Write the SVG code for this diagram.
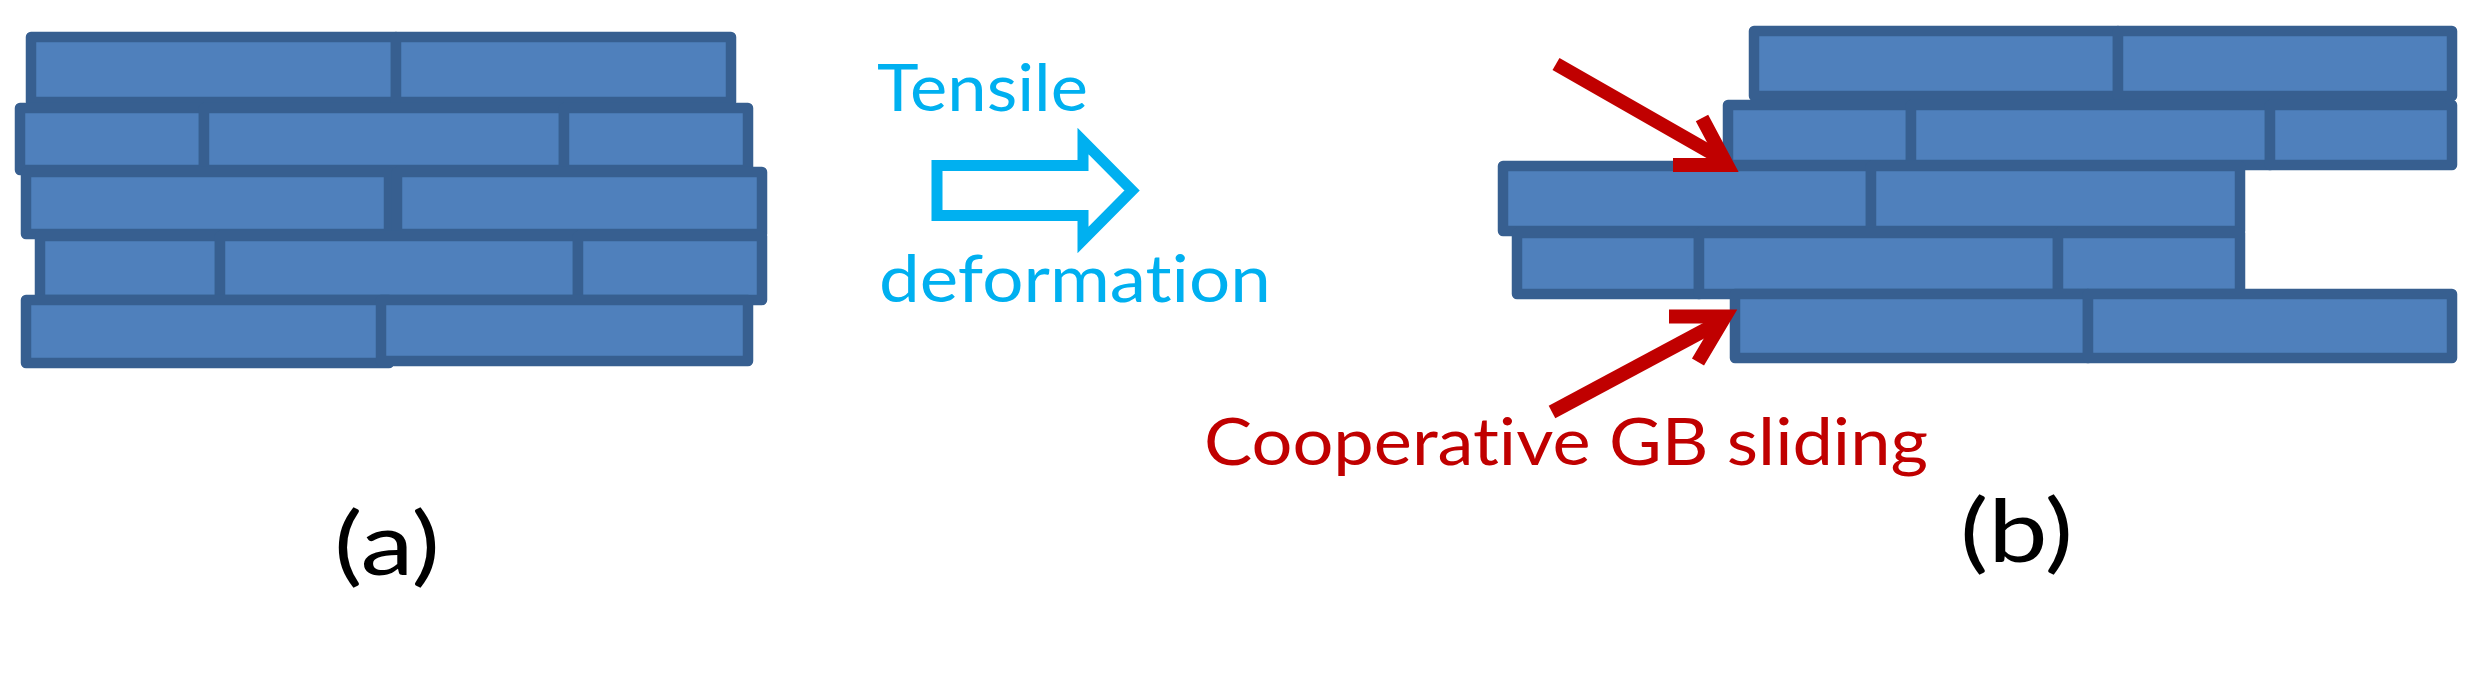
<svg xmlns="http://www.w3.org/2000/svg" width="2473" height="679" viewBox="0 0 2473 679">
<style>
.b{fill:#4F80BC;stroke:#375F90;stroke-width:10.5;stroke-linejoin:round}
.t{font-family:Lato,"Open Sans","Liberation Sans",sans-serif;font-size:66px;font-variant-ligatures:none}
.big{font-size:88px}
.red{fill:none;stroke:#C00000;stroke-width:14}
</style>
<rect width="2473" height="679" fill="#fff"/>
<g id="panel-a">
<g id="a1"><rect class="b" x="31" y="37" width="365" height="65"/><rect class="b" x="396" y="37" width="335" height="65"/></g>
<g id="a2"><rect class="b" x="20" y="108" width="184" height="62"/><rect class="b" x="204" y="108" width="360" height="62"/><rect class="b" x="564" y="108" width="184" height="62"/></g>
<g id="a3"><rect class="b" x="26" y="172" width="363" height="62"/><rect class="b" x="397" y="172" width="365" height="62"/></g>
<g id="a4"><rect class="b" x="40" y="236" width="180" height="64"/><rect class="b" x="220" y="236" width="358" height="64"/><rect class="b" x="578" y="236" width="184" height="64"/></g>
<g id="a5"><rect class="b" x="26" y="300" width="363" height="63"/><rect class="b" x="381" y="300" width="367" height="61"/></g>
</g>
<g id="panel-b">
<g id="b1"><rect class="b" x="1754" y="31" width="364" height="65"/><rect class="b" x="2118" y="31" width="334" height="65"/></g>
<g id="b2"><rect class="b" x="1728" y="105" width="183" height="60"/><rect class="b" x="1911" y="105" width="359" height="60"/><rect class="b" x="2270" y="105" width="182" height="60"/></g>
<g id="b3"><rect class="b" x="1503" y="166" width="368" height="65"/><rect class="b" x="1871" y="166" width="369" height="65"/></g>
<g id="b4"><rect class="b" x="1517" y="233" width="182" height="61"/><rect class="b" x="1699" y="233" width="359" height="61"/><rect class="b" x="2058" y="233" width="182" height="61"/></g>
<g id="b5"><rect class="b" x="1735" y="294" width="353" height="64"/><rect class="b" x="2088" y="294" width="364" height="64"/></g>
</g>
<g id="connectors">
<path d="M937 165.500H1083V141L1132 190.500L1083 240V215.500H937Z" fill="none" stroke="#00B0F0" stroke-width="11"/>
<path class="red" d="M1556 64L1724 160"/>
<path class="red" d="M1702 118L1727 165H1673"/>
<path class="red" d="M1552 412L1720 322"/>
<path class="red" d="M1669 316.500H1725L1698 362"/>
</g>
<g id="labels">
<text class="t" x="877" y="111" fill="#00B0F0" textLength="211" lengthAdjust="spacingAndGlyphs">Tensile</text>
<text class="t" x="879" y="302" fill="#00B0F0" textLength="392" lengthAdjust="spacingAndGlyphs">deformation</text>
<text class="t" x="1204" y="465" fill="#C00000" textLength="724" lengthAdjust="spacingAndGlyphs">Cooperative GB sliding</text>
<text class="t big" x="334" y="575" fill="#000" textLength="106" lengthAdjust="spacingAndGlyphs">(a)</text>
<text class="t big" x="1960" y="562" fill="#000" textLength="113" lengthAdjust="spacingAndGlyphs">(b)</text>
</g>
</svg>
